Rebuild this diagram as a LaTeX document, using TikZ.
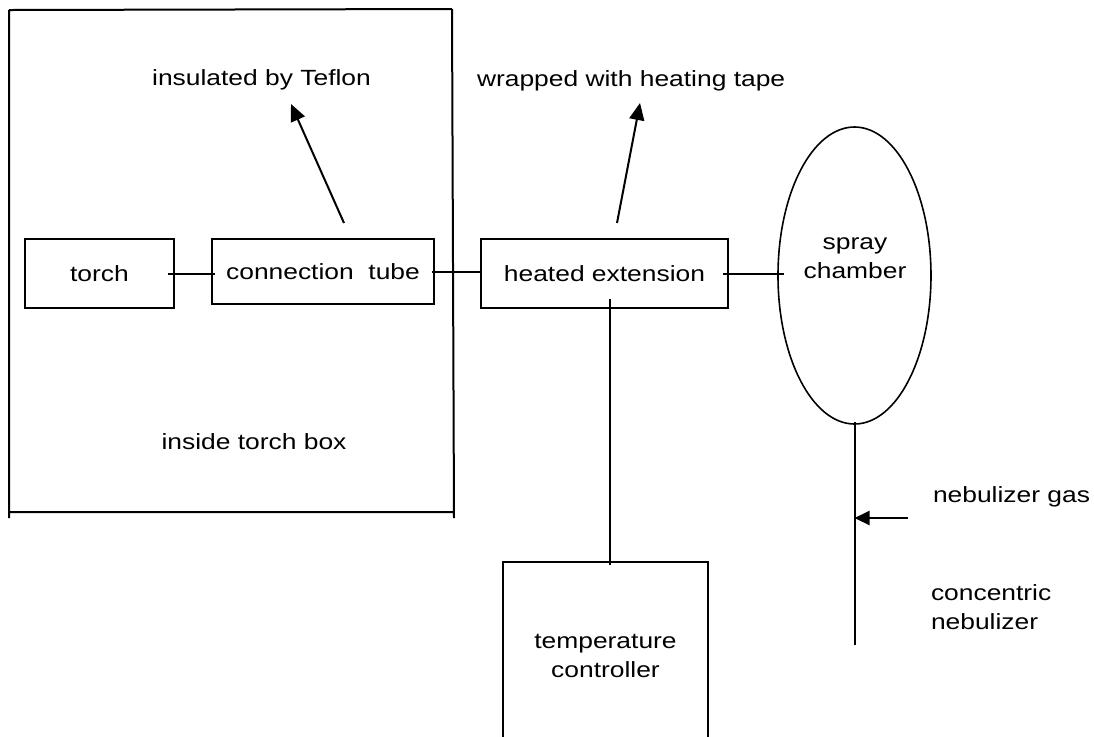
\documentclass[tikz,border=0pt]{standalone}
\usepackage{fontspec}
\setmainfont{Liberation Sans}[FakeStretch=1.2]
\usetikzlibrary{arrows.meta,shapes.geometric}

\tikzset{
  unitbox/.style={draw,inner sep=0pt,align=center},
  plaintext/.style={inner sep=0pt},
  pointer/.style={-{Triangle[length=8.5pt,width=7.5pt]}},
}

\begin{document}
\begin{tikzpicture}[x=.5pt,y=-.5pt,line width=1pt,font=\fontsize{11}{14.5}\selectfont]
  \useasboundingbox (0,0) rectangle (1094,736);
  % torch box outline
  \coordinate (TL) at (9,10); \coordinate (TR) at (452,9); \coordinate (BL) at (9,518); \coordinate (BR) at (454,518);
  \coordinate (BLi) at (9,512); \coordinate (BRi) at (454,512);
  \draw (TL) -- (TR) (TL) -- (BL) (TR) -- (BR) (BLi) -- (BRi);
  \node[plaintext,anchor=base] (boxlbl) at (254,449) {inside torch box};
  % units along the line
  \node[unitbox,minimum width=74.5pt,minimum height=34.5pt] (torch) at (99.5,273.5) {torch};
  \node[unitbox,minimum width=111pt,minimum height=32.5pt] (conn) at (323,271.5) {connection\ \ tube};
  \node[unitbox,minimum width=123.5pt,minimum height=34.5pt] (heated) at (604.5,273.5) {heated extension};
  \node[unitbox,minimum width=102.5pt,minimum height=93.5pt] (temp) at (605.5,655.5) {temperature\\controller};
  % spray chamber
  \node[draw,ellipse,line width=.8pt,inner sep=0pt,minimum width=76.5pt,minimum height=148.5pt] (spray) at (854.5,275.5) {};
  \node[plaintext,anchor=north,align=center] (spraytxt) at (855,237) {spray\\chamber};
  % connections (ends run a little into the boxes)
  \draw ([xshift=-3.5pt]torch.east) -- ([xshift=2pt]torch.east -| conn.west);
  \draw ([xshift=-1.5pt]conn.east) -- (conn.east -| heated.west);
  \draw ([xshift=-3pt]heated.east) -- ([xshift=3.5pt]heated.east -| spray.west);
  \draw ([xshift=2.75pt,yshift=5pt]heated.south) -- ([xshift=2.75pt,yshift=-2pt]heated.south |- temp.north);
  % nebulizer
  \coordinate (nebEnd) at (854.5,645); \coordinate (gasIn) at (908,518);
  \draw ([yshift=1.5pt]spray.south) -- (nebEnd);
  \draw[-{Triangle[length=7.5pt,width=7pt]}] (gasIn) -- (gasIn -| nebEnd);
  \node[plaintext,anchor=base west] (gas) at (932,502) {nebulizer gas};
  \node[plaintext,anchor=north west,align=left] (neb) at (930,584) {concentric\\nebulizer};
  % notes on top
  \coordinate (tefTail) at (344,223); \coordinate (tefTip) at (291,104);
  \coordinate (tapeTail) at (617,223); \coordinate (tapeTip) at (640,103);
  \draw[pointer] (tefTail) -- (tefTip);
  \draw[pointer] (tapeTail) -- (tapeTip);
  \node[plaintext,anchor=base] (teflon) at (261.5,85) {insulated by Teflon};
  \node[plaintext,anchor=base west] (tape) at (476,86) {wrapped with heating tape};
\end{tikzpicture}
\end{document}
